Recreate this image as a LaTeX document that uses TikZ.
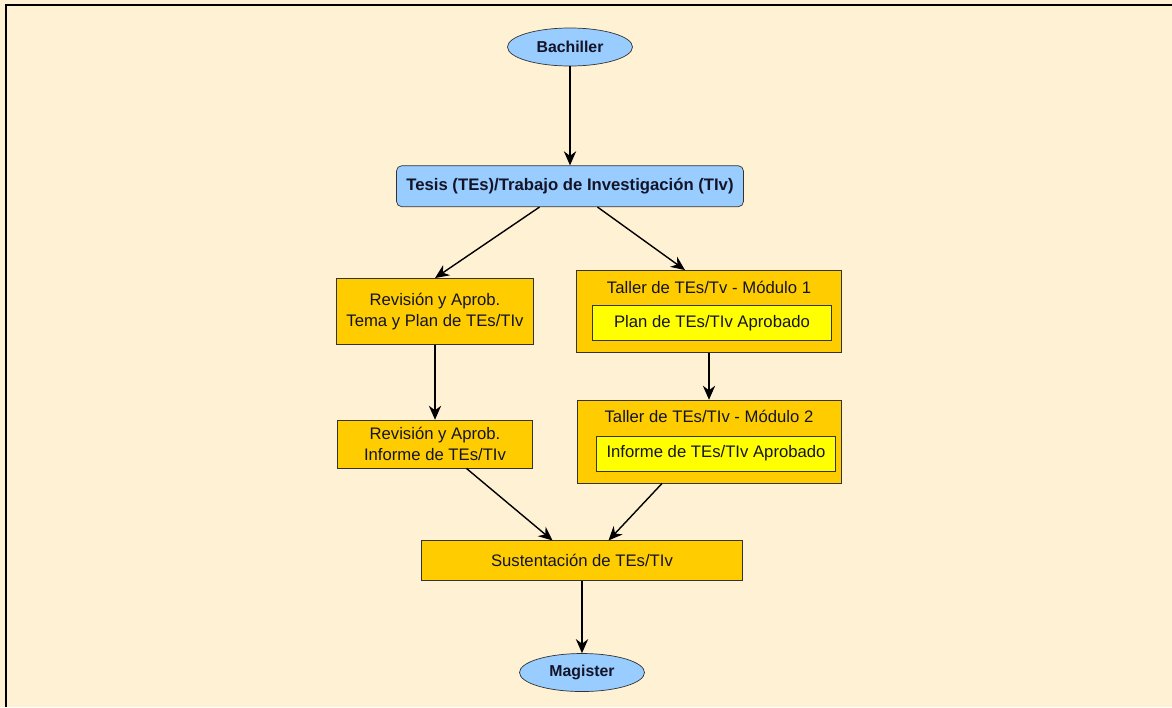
\documentclass[tikz,border=0pt]{standalone}
\usepackage{fontspec}
\setmainfont{Liberation Sans}
\usepackage{tikz}
\usetikzlibrary{positioning, arrows.meta, shapes.geometric}

\definecolor{fondo}{RGB}{255,242,212}
\definecolor{azul}{RGB}{153,204,255}
\definecolor{naranja}{RGB}{255,204,0}
\definecolor{amarillo}{RGB}{255,255,0}
\definecolor{tinta}{RGB}{20,20,40}

\begin{document}
\begin{tikzpicture}[-{Stealth[length=8pt,width=7pt]},line width=0.8pt,node distance=1.4cm]

			\tikzstyle{every node}=[font=\fontsize{9.5}{12}\selectfont,text=tinta,inner sep=0pt]

			\tikzstyle{grado}=[ellipse,draw=black!80,fill=azul,thin,minimum width=2.5cm,minimum height=0.76cm,font=\fontsize{9}{11}\selectfont\bfseries]
			\tikzstyle{tesis}=[rectangle,rounded corners=3pt,draw=black!80,fill=azul,thin,minimum width=6.94cm,minimum height=0.82cm,font=\fontsize{9.5}{11}\selectfont\bfseries]
			\tikzstyle{etapa}=[rectangle,draw=black!80,fill=naranja,thin,align=center]
			\tikzstyle{logro}=[rectangle,draw=black!80,fill=amarillo,thin,minimum width=4.77cm,minimum height=0.70cm]

			% fondo y marco
			\useasboundingbox (0,0) rectangle (23.44,-14.14);
			\fill[fondo] (0,0) rectangle (23.44,-14.14);
			\draw[-,line width=0.04cm] (0.10,-0.10) -- (23.44,-0.10);
			\draw[-,line width=0.04cm] (0.12,-0.08) -- (0.12,-14.14);

			\node[grado]                 (BA) at (11.40,-0.94) {Bachiller};
			\node[tesis]                 (TE) [below=1.98 of BA] {Tesis (TEs)/Trabajo de Investigación (TIv)};
			\node[etapa,minimum width=3.94cm,minimum height=1.32cm] (RA1) [below=1.42 of TE,xshift=-2.70cm] {Revisión y Aprob.\\Tema y Plan de TEs/TIv};
			\node[etapa,minimum width=5.30cm,minimum height=1.64cm] (TA1) [below=1.26 of TE,xshift=2.78cm] {};
			\node                        (TA1t) [below=0.20 of TA1.north] {Taller de TEs/Tv - Módulo 1};
			\node[logro]                 (TA1p) [below=0.70 of TA1.north,xshift=0.06cm] {Plan de TEs/TIv Aprobado};
			\node[etapa,minimum width=3.90cm,minimum height=0.96cm] (RA2) [below=1.50 of RA1] {Revisión y Aprob.\\Informe de TEs/TIv};
			\node[etapa,minimum width=5.28cm,minimum height=1.66cm] (TA2) [below=0.94 of TA1] {};
			\node                        (TA2t) [below=0.20 of TA2.north] {Taller de TEs/TIv - Módulo 2};
			\node[logro]                 (TA2p) [below=0.72 of TA2.north,xshift=0.14cm] {Informe de TEs/TIv Aprobado};
			\node[etapa,minimum width=6.42cm,minimum height=0.80cm] (SU) [below=1.44 of RA2,xshift=2.94cm] {Sustentación de TEs/TIv};
			\node[grado]                 (MA) [below=1.44 of SU] {Magister};

			\path (BA) edge (TE)
			([xshift=-0.61cm]TE.south) edge (RA1.north)
			([xshift=0.55cm]TE.south) edge ([xshift=-0.48cm]TA1.north)
			(RA1) edge (RA2)
			(TA1) edge (TA2)
			([xshift=0.63cm]RA2.south) edge ([xshift=-0.59cm]SU.north)
			([xshift=-0.94cm]TA2.south) edge ([xshift=0.53cm]SU.north)
			(SU.south) edge (MA.north);

		\end{tikzpicture}
\end{document}
